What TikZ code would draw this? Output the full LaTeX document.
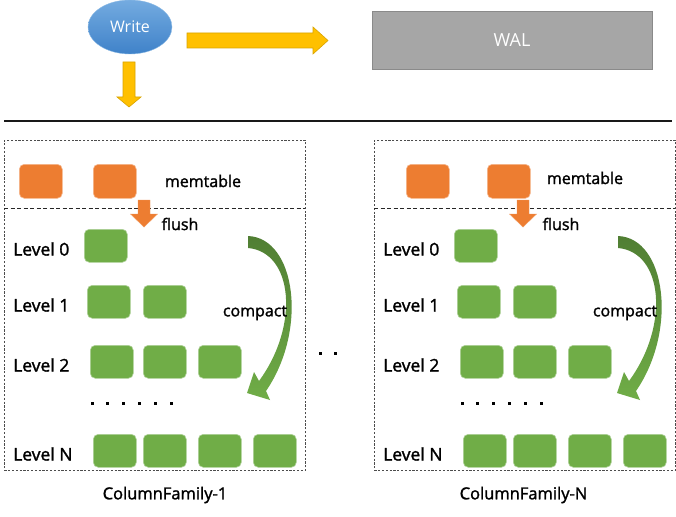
\documentclass[tikz,border=0pt]{standalone}
\usepackage{fontspec}
\setmainfont{Open Sans}
\newfontfamily\lblfont{Open Sans}[FakeBold=1.6]
\usetikzlibrary{calc, shapes.geometric}
\definecolor{writetop}{HTML}{74ABE0}
\definecolor{writebottom}{HTML}{3F82C9}
\definecolor{writeline}{HTML}{8DBBE6}
\definecolor{walgray}{HTML}{A6A6A6}
\definecolor{walline}{HTML}{8A8A8A}
\definecolor{blockyellow}{HTML}{FFC000}
\definecolor{blockyellowline}{HTML}{D9A400}
\definecolor{memorange}{HTML}{ED7D31}
\definecolor{sstgreen}{HTML}{70AD47}
\definecolor{sstgreendark}{HTML}{507E33}

\tikzset{
  writenode/.style={ellipse, top color=writetop, bottom color=writebottom, draw=writeline,
    minimum width=84pt, minimum height=54pt, text=white, font=\fontsize{16}{19}\selectfont},
  walbox/.style={rectangle, fill=walgray, draw=walline, line width=0.8pt,
    minimum width=280pt, minimum height=58pt, text=white, font=\fontsize{18}{21}\selectfont},
  yarrow/.style={fill=blockyellow, draw=blockyellowline, line width=0.6pt},
  panelbox/.style={rectangle, draw=black!70, line width=0.9pt, dash pattern=on 2.2pt off 1.6pt,
    minimum width=301pt, minimum height=330pt, anchor=north west, inner sep=0pt},
  sepline/.style={draw=black!85, line width=0.9pt, dash pattern=on 4pt off 2.5pt},
  memblock/.style={rectangle, rounded corners=5pt, fill=memorange, draw=memorange!55!white,
    line width=0.6pt, minimum width=43pt, minimum height=34pt, inner sep=0pt, anchor=north west},
  sstblock/.style={rectangle, rounded corners=5pt, fill=sstgreen, draw=sstgreen!55!white,
    line width=0.6pt, minimum width=43pt, minimum height=33pt, inner sep=0pt, anchor=north west},
  lvllabel/.style={anchor=west, inner sep=0pt, font=\lblfont\fontsize{17.5}{20}\selectfont},
  note/.style={inner sep=0pt, font=\lblfont\fontsize{16}{19}\selectfont},
  cflabel/.style={inner sep=0pt, font=\lblfont\fontsize{16.5}{19}\selectfont},
  flusharrow/.style={fill=memorange, draw=memorange!80!white, line width=0.4pt},
  compactarrow/.style={top color=sstgreendark, bottom color=sstgreen, draw=none}
}

\begin{document}
\begin{tikzpicture}[x=1pt, y=-1pt]
  \fill[white] (0,0) rectangle (676,516);
  \useasboundingbox (0,0) rectangle (676,516);

  % write path
  \node[writenode] (write) at (130,27) {Write};
  \node[walbox] (wal) at (512,40) {WAL};
  \coordinate (waltail) at (187,40.5);
  \coordinate (waltip) at (328,40.5);
  \draw[yarrow] ($(waltail)+(0,-7.5)$) -- ($(waltip)+(-15,-7.5)$) -- ($(waltip)+(-15,-13.5)$)
    -- (waltip) -- ($(waltip)+(-15,13.5)$) -- ($(waltip)+(-15,7.5)$) -- ($(waltail)+(0,7.5)$) -- cycle;
  \coordinate (cftail) at (129,62);
  \coordinate (cftip) at (129,107);
  \draw[yarrow] ($(cftail)+(-6,0)$) -- ($(cftip)+(-6,-10)$) -- ($(cftip)+(-12,-10)$)
    -- (cftip) -- ($(cftip)+(12,-10)$) -- ($(cftip)+(6,-10)$) -- ($(cftail)+(6,0)$) -- cycle;
  \draw[line width=1.6pt, black!90] (4,121) -- (672,121);

  % column families
  \foreach \dx/\cf/\oa/\ob/\fx/\mx/\my/\fy/\lx in
      {0/1/19/93/144/203/181/180/165, 370/N/36/117/153/215/178/191/153.5} {
    \begin{scope}[xshift=\dx pt]
      \node[panelbox] (cf\cf) at (4,140) {};
      \draw[sepline] (4,208) -- (305,208);
      \node[memblock] (m\cf-a) at (\oa,164) {};
      \node[memblock] (m\cf-b) at (\ob,164) {};
      \node[note] (mt\cf) at (\mx,\my) {memtable};
      \draw[flusharrow] (\fx-6,200) -- (\fx+6,200) -- (\fx+6,214) -- (\fx+13.5,214)
        -- (\fx,227) -- (\fx-13.5,214) -- (\fx-6,214) -- cycle;
      \node[note] (fl\cf) at (\fy,224) {flush};
      \foreach \lv/\yy/\xs in {0/229/{84}, 1/285/{87,143}, 2/345/{90,143,198}, N/434/{93,143,198,253}} {
        \node[lvllabel] (l\cf-\lv) at (13,\yy+20) {Level \lv};
        \foreach \xx [count=\i] in \xs
          \node[sstblock] (s\cf-\lv-\i) at (\xx,\yy) {};
      }
      \foreach \k in {0,...,5}
        \fill (90.5+\k*15.8,401.5) rectangle ++(3,3);
      \path[compactarrow] (248,236) .. controls (296,238) and (308,330) .. (266,391)
        -- (270,400) -- (247,393) -- (254,372) -- (259,381)
        .. controls (300,325) and (293,252) .. (248,248) -- cycle;
      \node[note] (cp\cf) at (255,313) {compact};
      \node[cflabel] (cfl\cf) at (\lx,495) {ColumnFamily-\cf};
    \end{scope}
  }
  \fill (318.5,351.5) rectangle ++(3,3);
  \fill (333.5,351.5) rectangle ++(3,3);
\end{tikzpicture}
\end{document}
